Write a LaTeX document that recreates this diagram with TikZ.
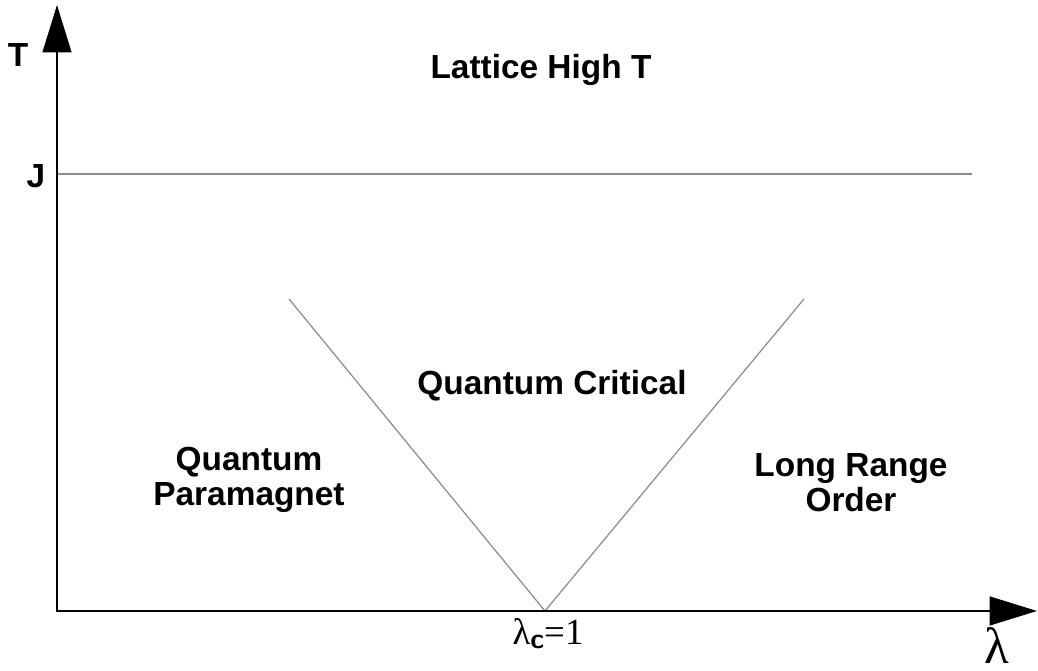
\documentclass[tikz,border=0pt]{standalone}
\usepackage{fontspec}
\setmainfont{Liberation Sans}
\newfontfamily\serifgr{Liberation Serif}
\usetikzlibrary{arrows.meta,calc}
\begin{document}
\begin{tikzpicture}[x=0.01cm,y=-0.01cm,
  axis/.style={line width=0.6pt,black,-{Triangle[width=8.2pt,length=13.5pt]}},
  thin/.style={line width=0.35pt,black!45},
  lbl/.style={font=\fontsize{9.5pt}{10pt}\selectfont\bfseries,align=center,inner sep=0pt}]
\useasboundingbox (0,0) rectangle (1038,671);
\coordinate (O) at (57,611);
\coordinate (Ytop) at (57,5);
\coordinate (Xend) at (1037,611);
\coordinate (Jl) at (57,174);
\coordinate (Jr) at (972,174);
\coordinate (Vl) at (289,299);
\coordinate (Vb) at (545,611);
\coordinate (Vr) at (804,299);
\draw[thin] (Jl) -- (Jr);
\draw[thin] (Vl) -- (Vb) -- (Vr);
\draw[axis] (O) -- (Ytop);
\draw[axis] ($(O)+(-1,0)$) -- (Xend);
\node[lbl] (T) at (18,55) {T};
\node[lbl] (J) at (36,176) {J};
\node[lbl] (lht) at (541,70) {Lattice High T};
\node[lbl] (qc) at (552,386) {Quantum Critical};
\node[lbl] (qp) at (249,480) {Quantum\\Paramagnet};
\node[lbl] (lro) at (851,483) {Long Range\\Order};
\node[inner sep=0pt] (lc) at (548,634) {\fontsize{10.5pt}{11pt}\selectfont\serifgr λ\raisebox{-0.25ex}{\fontsize{8pt}{9pt}\selectfont\sffamily\bfseries c}=1};
\node[inner sep=0pt,anchor=base] (lam) at (997,664) {\fontsize{14.5pt}{16pt}\selectfont\serifgr λ};
\end{tikzpicture}
\end{document}
